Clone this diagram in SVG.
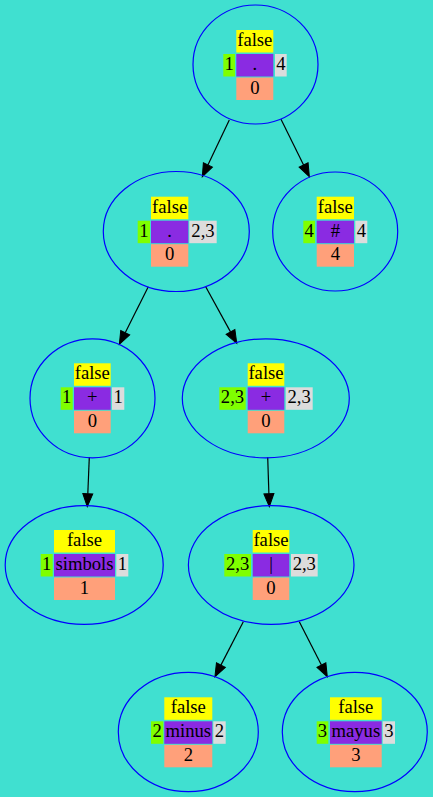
<svg xmlns="http://www.w3.org/2000/svg" width="433" height="797" viewBox="0 0 433 797">
<style>
.bg{fill:#40e0d0}
.el{fill:none;stroke:#0000ff;stroke-width:1.2}
.y{fill:#ffff00}
.g{fill:#7fff00}
.p{fill:#8a2be2}
.w{fill:#dcdcdc}
.s{fill:#ffa07a}
text{font-family:"Liberation Serif","Times New Roman",serif;font-size:18.67px;fill:#000;text-anchor:middle}
.e{stroke:#000;stroke-width:1.2;fill:none;marker-end:url(#ah)}
</style>
<defs>
<marker id="ah" markerUnits="userSpaceOnUse" viewBox="0 -5 13 10" markerWidth="13" markerHeight="10" refX="0" refY="0" orient="auto" overflow="visible">
<path d="M0,-5 L13,0 L0,5 z" fill="#000" stroke="#000" stroke-width="1"/>
</marker>
</defs>
<rect class="bg" x="0" y="0" width="433" height="797"/>
<g id="edges">
<line class="e" x1="229.3" y1="120" x2="207.9" y2="165.0"/>
<line class="e" x1="281" y1="119.3" x2="303.6" y2="165.0"/>
<line class="e" x1="148.3" y1="286.7" x2="125.2" y2="332.7"/>
<line class="e" x1="205.7" y1="286.7" x2="230.5" y2="331.9"/>
<line class="e" x1="89.3" y1="457.3" x2="87.8" y2="493.7"/>
<line class="e" x1="267.7" y1="457.3" x2="268.9" y2="493.7"/>
<line class="e" x1="243.3" y1="621.7" x2="220.9" y2="665.1"/>
<line class="e" x1="299.3" y1="621.7" x2="321.4" y2="665.1"/>
</g>
<g id="n1">
<ellipse class="el" cx="255.5" cy="64.5" rx="62.5" ry="59.5"/>
<rect class="y" x="236.3" y="30" width="37" height="22.5"/>
<rect class="g" x="223.3" y="54" width="11.7" height="22.5"/>
<rect class="p" x="236.3" y="54" width="37" height="22.5"/>
<rect class="w" x="275" y="54" width="11.7" height="22.5"/>
<rect class="s" x="236.3" y="77.5" width="37" height="22.5"/>
<text x="254.8" y="46">false</text>
<text x="229.2" y="70">1</text>
<text x="254.8" y="70">.</text>
<text x="280.9" y="70">4</text>
<text x="254.8" y="93.5">0</text>
</g>
<g id="n2">
<ellipse class="el" cx="176.3" cy="231.5" rx="73" ry="60"/>
<rect class="y" x="151" y="196.7" width="37.3" height="22.5"/>
<rect class="g" x="137.7" y="220.7" width="12.3" height="22.5"/>
<rect class="p" x="151" y="220.7" width="37.3" height="22.5"/>
<rect class="w" x="189.3" y="220.7" width="27.4" height="22.5"/>
<rect class="s" x="151" y="244.2" width="37.3" height="22.5"/>
<text x="169.7" y="212.7">false</text>
<text x="143.8" y="236.7">1</text>
<text x="169.7" y="236.7">.</text>
<text x="203" y="236.7">2,3</text>
<text x="169.7" y="260.2">0</text>
</g>
<g id="n3">
<ellipse class="el" cx="335.2" cy="231.5" rx="62.5" ry="59.5"/>
<rect class="y" x="316.7" y="196.7" width="37.3" height="22.5"/>
<rect class="g" x="303.3" y="220.7" width="11.7" height="22.5"/>
<rect class="p" x="316.7" y="220.7" width="37.3" height="22.5"/>
<rect class="w" x="355.3" y="220.7" width="12" height="22.5"/>
<rect class="s" x="316.7" y="244.2" width="37.3" height="22.5"/>
<text x="335.3" y="212.7">false</text>
<text x="309.2" y="236.7">4</text>
<text x="335.3" y="236.7">#</text>
<text x="361.3" y="236.7">4</text>
<text x="335.3" y="260.2">4</text>
</g>
<g id="n4">
<ellipse class="el" cx="92.5" cy="398.3" rx="62.5" ry="59.5"/>
<rect class="y" x="74" y="363.3" width="36.7" height="22.5"/>
<rect class="g" x="60.7" y="387.3" width="12" height="22.5"/>
<rect class="p" x="74" y="387.3" width="36.7" height="22.5"/>
<rect class="w" x="112" y="387.3" width="12.3" height="22.5"/>
<rect class="s" x="74" y="410.8" width="36.7" height="22.5"/>
<text x="92.3" y="379.3">false</text>
<text x="66.7" y="403.3">1</text>
<text x="92.3" y="403.3">+</text>
<text x="118.1" y="403.3">1</text>
<text x="92.3" y="426.8">0</text>
</g>
<g id="n5">
<ellipse class="el" cx="265.8" cy="398.3" rx="83.5" ry="59.5"/>
<rect class="y" x="247.7" y="363.3" width="36.6" height="22.5"/>
<rect class="g" x="219.3" y="387.3" width="26.4" height="22.5"/>
<rect class="p" x="247.7" y="387.3" width="36.6" height="22.5"/>
<rect class="w" x="285.7" y="387.3" width="27" height="22.5"/>
<rect class="s" x="247.7" y="410.8" width="36.6" height="22.5"/>
<text x="266" y="379.3">false</text>
<text x="232.5" y="403.3">2,3</text>
<text x="266" y="403.3">+</text>
<text x="299.2" y="403.3">2,3</text>
<text x="266" y="426.8">0</text>
</g>
<g id="n6">
<ellipse class="el" cx="84.2" cy="565" rx="79" ry="59.3"/>
<rect class="y" x="54" y="530" width="61" height="22.5"/>
<rect class="g" x="40.7" y="554" width="12" height="22.5"/>
<rect class="p" x="54" y="554" width="61" height="22.5"/>
<rect class="w" x="116.3" y="554" width="12" height="22.5"/>
<rect class="s" x="54" y="577.5" width="61" height="22.5"/>
<text x="84.5" y="546">false</text>
<text x="46.7" y="570">1</text>
<text x="84.5" y="570">simbols</text>
<text x="122.3" y="570">1</text>
<text x="84.5" y="593.5">1</text>
</g>
<g id="n7">
<ellipse class="el" cx="271.2" cy="565" rx="82.8" ry="59.3"/>
<rect class="y" x="252.7" y="530" width="36.6" height="22.5"/>
<rect class="g" x="224.3" y="554" width="26.7" height="22.5"/>
<rect class="p" x="252.7" y="554" width="36.6" height="22.5"/>
<rect class="w" x="291" y="554" width="26.7" height="22.5"/>
<rect class="s" x="252.7" y="577.5" width="36.6" height="22.5"/>
<text x="271" y="546">false</text>
<text x="237.7" y="570">2,3</text>
<text x="271" y="570">|</text>
<text x="304.3" y="570">2,3</text>
<text x="271" y="593.5">0</text>
</g>
<g id="n8">
<ellipse class="el" cx="188.3" cy="732" rx="70" ry="59.7"/>
<rect class="y" x="164.3" y="697.3" width="48" height="22.5"/>
<rect class="g" x="151" y="721.3" width="12.3" height="22.5"/>
<rect class="p" x="164.3" y="721.3" width="48" height="22.5"/>
<rect class="w" x="213.3" y="721.3" width="12.4" height="22.5"/>
<rect class="s" x="164.3" y="744.8" width="48" height="22.5"/>
<text x="188.3" y="713.3">false</text>
<text x="157.2" y="737.3">2</text>
<text x="188.3" y="737.3">minus</text>
<text x="219.5" y="737.3">2</text>
<text x="188.3" y="760.8">2</text>
</g>
<g id="n9">
<ellipse class="el" cx="354.8" cy="732" rx="72.5" ry="59.7"/>
<rect class="y" x="330" y="697.3" width="51.7" height="22.5"/>
<rect class="g" x="316.7" y="721.3" width="11.6" height="22.5"/>
<rect class="p" x="330" y="721.3" width="51.7" height="22.5"/>
<rect class="w" x="382.7" y="721.3" width="12.3" height="22.5"/>
<rect class="s" x="330" y="744.8" width="51.7" height="22.5"/>
<text x="355.8" y="713.3">false</text>
<text x="322.5" y="737.3">3</text>
<text x="355.8" y="737.3">mayus</text>
<text x="388.8" y="737.3">3</text>
<text x="355.8" y="760.8">3</text>
</g>
</svg>
